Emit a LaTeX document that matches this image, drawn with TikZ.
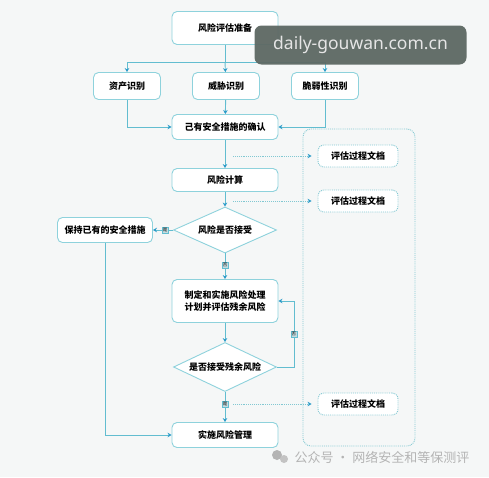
\documentclass[tikz,border=0pt]{standalone}
\usepackage{fontspec}
\setmainfont{Noto Sans CJK SC}
\newfontfamily\markfont{Noto Sans}
\usetikzlibrary{arrows.meta,shapes.geometric}
\definecolor{flowline}{HTML}{62BDD0}
\definecolor{tipblue}{HTML}{2A9BC9}
\definecolor{boxline}{HTML}{8ED2DC}
\definecolor{dotline}{HTML}{82C8D2}
\definecolor{pagebg}{HTML}{F5F7F7}
\definecolor{tagfill}{HTML}{C4DCE0}
\definecolor{markbg}{HTML}{5D6863}
\definecolor{marktext}{HTML}{B4B4B4}

\begin{document}
\begin{tikzpicture}[x=1pt,y=-1pt,
  stepbox/.style={draw=boxline,line width=0.9pt,rounded corners=5pt,fill=white,minimum width=106pt,minimum height=25pt,inner sep=2pt,font=\bfseries\fontsize{9}{12.5}\selectfont},
  idbox/.style={stepbox,minimum width=67pt,minimum height=27pt},
  decision/.style={diamond,draw=boxline,line width=0.9pt,fill=white,aspect=2.2,minimum width=103pt,minimum height=46pt,inner sep=0pt,font=\bfseries\fontsize{9}{11}\selectfont},
  docbox/.style={draw=dotline,densely dotted,line width=0.9pt,rounded corners=6pt,fill=white,minimum width=80pt,minimum height=22pt,font=\bfseries\fontsize{9}{11}\selectfont},
  flow/.style={draw=flowline,line width=0.9pt,->},
  dotflow/.style={draw=dotline,densely dotted,line width=0.9pt,->},
  yesno/.style={fill=tagfill,draw=flowline,line width=0.3pt,inner sep=0.8pt,font=\fontsize{4.5}{5}\selectfont}]
\tikzset{>={Stealth[width=4.5pt,length=4pt,color=tipblue]}}
\fill[pagebg] (0,0) rectangle (489,477);
\useasboundingbox (0,0) rectangle (489,477);
\node (frame) [draw=dotline,densely dotted,line width=0.9pt,rounded corners=8pt,minimum width=112pt,minimum height=317pt] at (359,287.5) {};
\node (prep) [stepbox,minimum height=33pt] at (225,28) {风险评估准备};
\coordinate (split) at (225,62);
\foreach \n/\x/\t in {asset/127/资产识别,threat/226/威胁识别,vuln/325/脆弱性识别}
\node (\n) [idbox] at (\x,86) {\t};
\node (confirm) [stepbox] at (225,127) {己有安全措施的确认};
\node (calc) [stepbox,minimum height=23pt] at (225,180) {风险计算};
\node (accept) [decision] at (225,230) {风险是否接受};
\node (keep) [stepbox,minimum width=95pt] at (105,230) {保持已有的安全措施};
\node (plan) [stepbox,minimum height=43pt,align=center] at (225,301) {制定和实施风险处理\\计划并评估残余风险};
\node (residual) [decision,minimum height=49pt] at (225,367) {是否接受残余风险};
\node (impl) [stepbox] at (225,435) {实施风险管理};
\foreach \n/\y in {doc1/156,doc2/201,doc3/404}
\node (\n) [docbox] at (358,\y) {评估过程文档};
\foreach \n/\y in {t1/156,t2/201,t3/404}
\coordinate (\n) at (233,\y);
\draw [flowline,line width=0.9pt] (prep) -- (split);
\draw [flow] (split) -| (asset);
\draw [flow] (split) -- (threat);
\draw [flow] (split) -| (vuln);
\draw [flow] (asset) |- (confirm);
\draw [flow] (threat) -- (confirm);
\draw [flow] (vuln) |- (confirm);
\draw [flow] (confirm) -- (calc);
\draw [flow] (calc) -- (accept);
\draw [flow] (accept) -- (keep) node [yesno,pos=0.4] {是};
\draw [flow] (accept) -- (plan) node [yesno,pos=0.45] {否};
\draw [flow] (plan) -- (residual);
\draw [flow] (residual.east) -- ++(17,0) |- (plan.east) node [yesno,pos=0.25] {否};
\draw [flow] (residual) -- (impl) node [yesno,pos=0.4] {是};
\draw [flow] (keep) |- (impl);
\foreach \a/\b in {t1/doc1,t2/doc2,t3/doc3}
\draw [dotflow,shorten >=6pt] (\a) -- (\b);
\node (mark) [fill=markbg,fill opacity=0.95,rounded corners=7pt,minimum width=212pt,minimum height=39pt,text=white!90!black,text opacity=1,font=\markfont\fontsize{17.5}{20}\selectfont] at (360.5,45) {daily-gouwan.com.cn};
\node (wx) [text=marktext,font=\fontsize{13}{15}\selectfont,anchor=west] at (291,457) {公众号 · 网络安全和等保测评};
\fill[marktext] (277,455) circle (5pt);
\fill[marktext!80] (284,459) circle (4pt);
\end{tikzpicture}
\end{document}
